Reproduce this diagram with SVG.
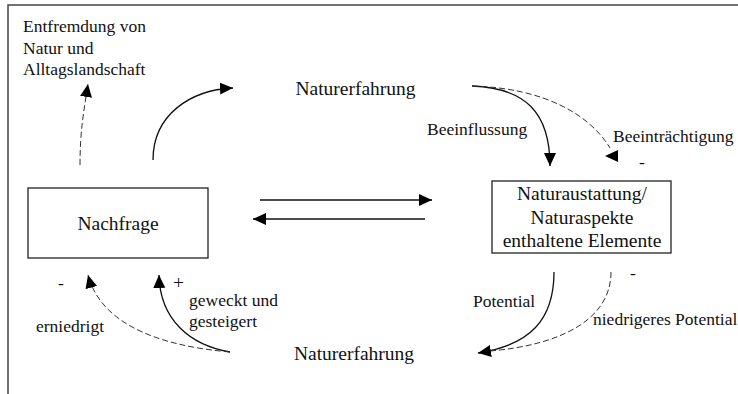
<svg xmlns="http://www.w3.org/2000/svg" width="738" height="394" viewBox="0 0 738 394">
<style>
text{font-family:'Liberation Serif','DejaVu Serif',serif;fill:#111}
.m{font-size:19.5px}
.s{font-size:17.5px}
.c{text-anchor:middle}
.box{fill:#fff;stroke:#222;stroke-width:1.3}
.ln{fill:none;stroke:#111;stroke-width:1.3}
.ds{fill:none;stroke:#333;stroke-width:1;stroke-dasharray:6,3}
.frame{fill:none;stroke:#444;stroke-width:1.5}
</style>
<defs>
<marker id="ah" markerUnits="userSpaceOnUse" markerWidth="14" markerHeight="14" viewBox="0 0 14 14" refX="13" refY="7" orient="auto">
<path d="M0,1 L13,7 L0,13 Z" fill="#000"/>
</marker>
</defs>
<path class="frame" d="M8,394 L8,5 L738,5"/>
<g id="entfremdung" font-family="Liberation Serif, DejaVu Serif, serif">
<text class="s" x="23" y="32">Entfremdung von</text>
<text class="s" x="23" y="53.5">Natur und</text>
<text class="s" x="23" y="75">Alltagslandschaft</text>
</g>
<g id="nachfrage">
<rect class="box" x="28" y="188" width="180" height="70"/>
<text class="m c" x="118" y="230">Nachfrage</text>
</g>
<g id="naturerfahrung-oben">
<text class="m c" x="355.5" y="95">Naturerfahrung</text>
</g>
<g id="naturausstattung">
<rect class="box" x="492" y="181" width="179" height="72"/>
<text class="m c" x="582" y="200">Naturaustattung/</text>
<text class="m c" x="582" y="223.5">Naturaspekte</text>
<text class="m c" x="582" y="247">enthaltene Elemente</text>
</g>
<g id="naturerfahrung-unten">
<text class="m c" x="354" y="360">Naturerfahrung</text>
</g>
<g id="connectors">
<path class="ds" d="M80,165 C80,130 84,110 88,84" marker-end="url(#ah)"/>
<path class="ln" d="M153,160 C153,115 190,90 233,88" marker-end="url(#ah)"/>
<path class="ln" d="M260,200 L432,200" marker-end="url(#ah)"/>
<path class="ln" d="M425,219 L253,219" marker-end="url(#ah)"/>
<path class="ln" d="M472,86 C525,88 550,112 550,166" marker-end="url(#ah)"/>
<path class="ds" d="M472,86 C545,88 590,115 610,148"/>
<polygon points="605,156 618,150 618,162" fill="#000"/>
<path class="ln" d="M554,272 C554,320 530,345 478,353" marker-end="url(#ah)"/>
<path class="ds" d="M611,272 C611,320 560,345 490,351"/>
<path class="ln" d="M230,352 C190,345 160,320 159,275" marker-end="url(#ah)"/>
<path class="ds" d="M230,352 C150,345 100,320 88,275" marker-end="url(#ah)"/>
</g>
<g id="labels">
<text class="s" x="427" y="135">Beeinflussung</text>
<text class="s" x="613" y="142">Beeinträchtigung</text>
<text class="s" x="639" y="168">-</text>
<text class="s" x="473" y="307">Potential</text>
<text class="s" x="593" y="325">niedrigeres Potential</text>
<text class="s" x="630" y="279">-</text>
<text class="s" x="58" y="289">-</text>
<text class="m" x="173" y="289">+</text>
<text class="s" x="189" y="306">geweckt und</text>
<text class="s" x="189" y="327">gesteigert</text>
<text class="s" x="36" y="332">erniedrigt</text>
</g>
</svg>
